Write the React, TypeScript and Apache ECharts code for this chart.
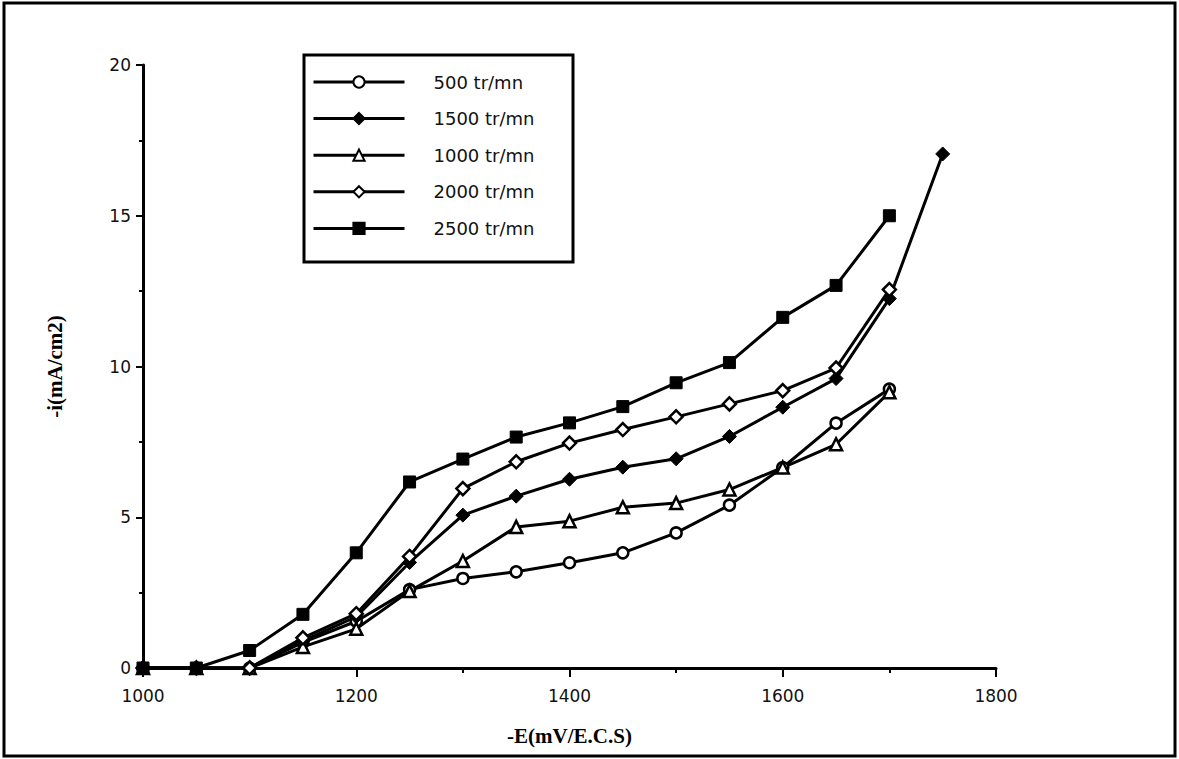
import React, { useEffect, useRef } from "react";
import * as echarts from "echarts";

const potentials = [1000, 1050, 1100, 1150, 1200, 1250, 1300, 1350, 1400, 1450, 1500, 1550, 1600, 1650, 1700, 1750];

const rpm500 = [0, 0, 0, 0.85, 1.55, 2.6, 2.97, 3.19, 3.49, 3.82, 4.48, 5.4, 6.65, 8.12, 9.25];
const rpm1500 = [0, 0, 0, 0.9, 1.7, 3.5, 5.07, 5.7, 6.26, 6.66, 6.94, 7.68, 8.65, 9.6, 12.25, 17.05];
const rpm1000 = [0, 0, 0, 0.7, 1.3, 2.55, 3.55, 4.68, 4.87, 5.33, 5.47, 5.92, 6.65, 7.42, 9.15];
const rpm2000 = [0, 0, 0, 1.0, 1.8, 3.7, 5.95, 6.84, 7.46, 7.91, 8.33, 8.76, 9.2, 9.95, 12.55];
const rpm2500 = [0, 0, 0.58, 1.78, 3.82, 6.17, 6.93, 7.66, 8.13, 8.67, 9.46, 10.13, 11.63, 12.69, 15.0];

const seriesNames = ["500 tr/mn", "1500 tr/mn", "1000 tr/mn", "2000 tr/mn", "2500 tr/mn"];

const xTicks = { min: 1000, max: 1800, interval: 200 };
const yTicks = { min: 0, max: 20, interval: 5 };

const pair = (vals: number[]) => vals.map((v, i) => [potentials[i], v]);

export default function App() {
  const ref = useRef<HTMLDivElement>(null);
  useEffect(() => {
    if (!ref.current) return;
    const chart = echarts.init(ref.current, null, { renderer: "svg" });
    const tickFont = { fontFamily: "DejaVu Sans", fontSize: 17, color: "#111" };
    const titleFont = { fontFamily: "Liberation Serif", fontSize: 21, fontWeight: "bold" as any, color: "#000" };
    const mk = (name: string, vals: number[], symbol: string, filled: boolean, size: number) => ({
      name,
      type: "line",
      data: pair(vals),
      symbol,
      symbolSize: size,
      showSymbol: true,
      lineStyle: { color: "#000", width: 3 },
      itemStyle: filled
        ? { color: "#000", borderColor: "#000", borderWidth: 1 }
        : { color: "#fff", borderColor: "#000", borderWidth: 2.5 },
      emphasis: { disabled: true },
      z: 3,
    });
    chart.setOption({
      animation: false,
      backgroundColor: "#fff",
      grid: { left: 143, right: 183, top: 65, bottom: 91, containLabel: false },
      xAxis: {
        type: "value",
        min: xTicks.min,
        max: xTicks.max,
        interval: xTicks.interval,
        name: "-E(mV/E.C.S)",
        nameLocation: "middle",
        nameGap: 57,
        nameTextStyle: titleFont,
        axisLine: { show: true, lineStyle: { color: "#000", width: 3 } },
        axisTick: { show: true, inside: false, length: 9, lineStyle: { color: "#000", width: 2 } },
        minorTick: { show: true, splitNumber: 2, length: 5, lineStyle: { color: "#000", width: 2 } },
        splitLine: { show: false },
        axisLabel: { ...tickFont, margin: 19, formatter: (v: number) => String(v) },
      },
      yAxis: {
        type: "value",
        min: yTicks.min,
        max: yTicks.max,
        interval: yTicks.interval,
        name: "-i(mA/cm2)",
        nameLocation: "middle",
        nameGap: 78,
        nameRotate: 90,
        nameTextStyle: titleFont,
        axisLine: { show: true, lineStyle: { color: "#000", width: 3 } },
        axisTick: { show: true, inside: false, length: 7, lineStyle: { color: "#000", width: 2 } },
        minorTick: { show: true, splitNumber: 2, length: 4, lineStyle: { color: "#000", width: 2 } },
        splitLine: { show: false },
        axisLabel: { ...tickFont, margin: 12, formatter: (v: number) => String(v) },
      },
      legend: {
        orient: "vertical",
        left: 312,
        top: 73,
        itemWidth: 91,
        itemHeight: 14,
        itemGap: 18.6,
        padding: 0,
        data: seriesNames,
        selectedMode: false,
        lineStyle: { color: "#000", width: 3 },
        textStyle: { fontFamily: "DejaVu Sans", fontSize: 18, color: "#111", padding: [0, 0, 0, 24] },
      },
      graphic: [
        {
          type: "rect",
          shape: { x: 4, y: 3, width: 1171, height: 753 },
          style: { fill: "none", stroke: "#000", lineWidth: 3 },
          silent: true,
        },
        {
          type: "rect",
          shape: { x: 304, y: 55, width: 269, height: 207 },
          style: { fill: "none", stroke: "#000", lineWidth: 3 },
          silent: true,
        },
      ],
      series: [
        mk(seriesNames[0], rpm500, "circle", false, 11),
        mk(seriesNames[1], rpm1500, "diamond", true, 14),
        mk(seriesNames[2], rpm1000, "triangle", false, 12),
        mk(seriesNames[3], rpm2000, "diamond", false, 13),
        mk(seriesNames[4], rpm2500, "rect", true, 12),
      ],
    });
    return () => chart.dispose();
  }, []);
  return (
    <div
      ref={ref}
      style={{ position: "fixed", left: 0, top: 0, width: 1179, height: 759, background: "#fff" }}
    />
  );
}
